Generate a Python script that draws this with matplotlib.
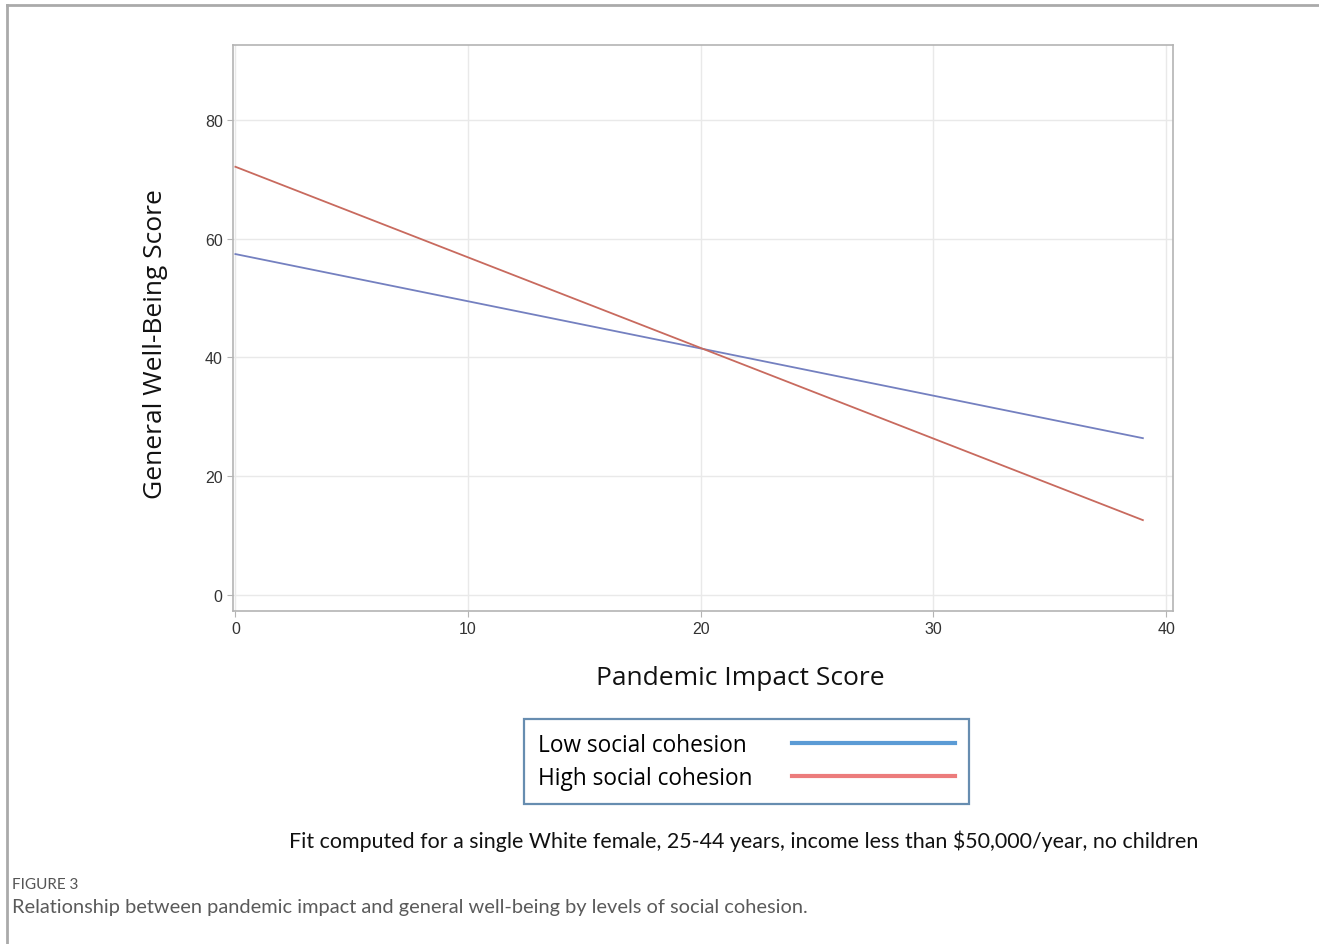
import matplotlib
matplotlib.use("Agg")
import matplotlib.pyplot as plt
from matplotlib.lines import Line2D

# fitted lines at the ends of the observed range
impact = [0, 39]
low_cohesion = [57.4, 26.4]
high_cohesion = [72.1, 12.6]

x_ticks = [0, 10, 20, 30, 40]
y_ticks = [0, 20, 40, 60, 80]

series_names = ["Low social cohesion", "High social cohesion"]
fit_note = "Fit computed for a single White female, 25-44 years, income less than $50,000/year, no children"
caption_head = "FIGURE 3"
caption = "Relationship between pandemic impact and general well-being by levels of social cohesion."

plot_colors = ["#7480c0", "#c86a5e"]
legend_colors = ["#5b9bd5", "#ec7c7c"]

fig = plt.figure(figsize=(13.19, 9.45), dpi=100)
ax = fig.add_axes([0.1767, 0.3524, 0.7127, 0.5989])

ax.plot(impact, low_cohesion, color=plot_colors[0], lw=1.3)
ax.plot(impact, high_cohesion, color=plot_colors[1], lw=1.3)

ax.set_xlim(-0.1, 40.3)
ax.set_ylim(-2.7, 92.6)
ax.set_xticks(x_ticks)
ax.set_yticks(y_ticks)
ax.grid(True, color="#e9e9e9", lw=1.0)
ax.set_axisbelow(True)
for s in ax.spines.values():
    s.set_color("#b4b4b4")
    s.set_linewidth(1.2)
ax.tick_params(length=4, color="#b4b4b4", labelsize=11.5, labelcolor="#333333")
for lab in ax.get_xticklabels() + ax.get_yticklabels():
    lab.set_family("Liberation Sans")

ax.set_xlabel("Pandemic Impact Score", fontsize=19, family="Open Sans", color="#111111")
ax.xaxis.set_label_coords(0.540, -0.095)
ax.set_ylabel("General Well-Being Score", fontsize=19, family="Open Sans", color="#111111")
ax.yaxis.label.set_va("center")
ax.yaxis.set_label_coords(-0.083, 0.4735)

handles = [Line2D([], [], color=c, lw=3) for c in legend_colors]
leg = fig.legend(handles, series_names, loc="center", bbox_to_anchor=(0.566, 0.193),
                 markerfirst=False, handlelength=7.2, handletextpad=1.75,
                 prop={"family": "Open Sans", "size": 16.3}, frameon=True,
                 fancybox=False, borderpad=0.6, labelspacing=0.42, borderaxespad=0)
leg.get_frame().set_edgecolor("#41719c")
leg.get_frame().set_linewidth(1.6)

# left-align the labels and keep the key lines lined up under each other
fig.canvas.draw()
renderer = fig.canvas.get_renderer()
widths = [t.get_window_extent(renderer).width for t in leg.get_texts()]
col = leg._legend_handle_box.get_children()[0]
col.align = "left"
for row, w in zip(col.get_children(), widths):
    row.sep += (max(widths) - w) * 72 / fig.dpi

fig.text(0.564, 0.110, fit_note, ha="center", va="center", fontsize=15.4,
         family="Lato", color="#111111")

fig.text(0.009, 0.064, caption_head, ha="left", va="center", fontsize=11,
         family="Lato", color="#555555")
fig.text(0.009, 0.040, caption, ha="left", va="center", fontsize=14.4,
         family="Lato", color="#5a5a5a")

# outer page frame
fig.add_artist(Line2D([0.0053, 1.0], [0.9936, 0.9936], color="#aaaaaa", lw=2))
fig.add_artist(Line2D([0.0053, 0.0053], [0.0, 0.9936], color="#aaaaaa", lw=2))

fig.savefig("out.png", dpi=100)
